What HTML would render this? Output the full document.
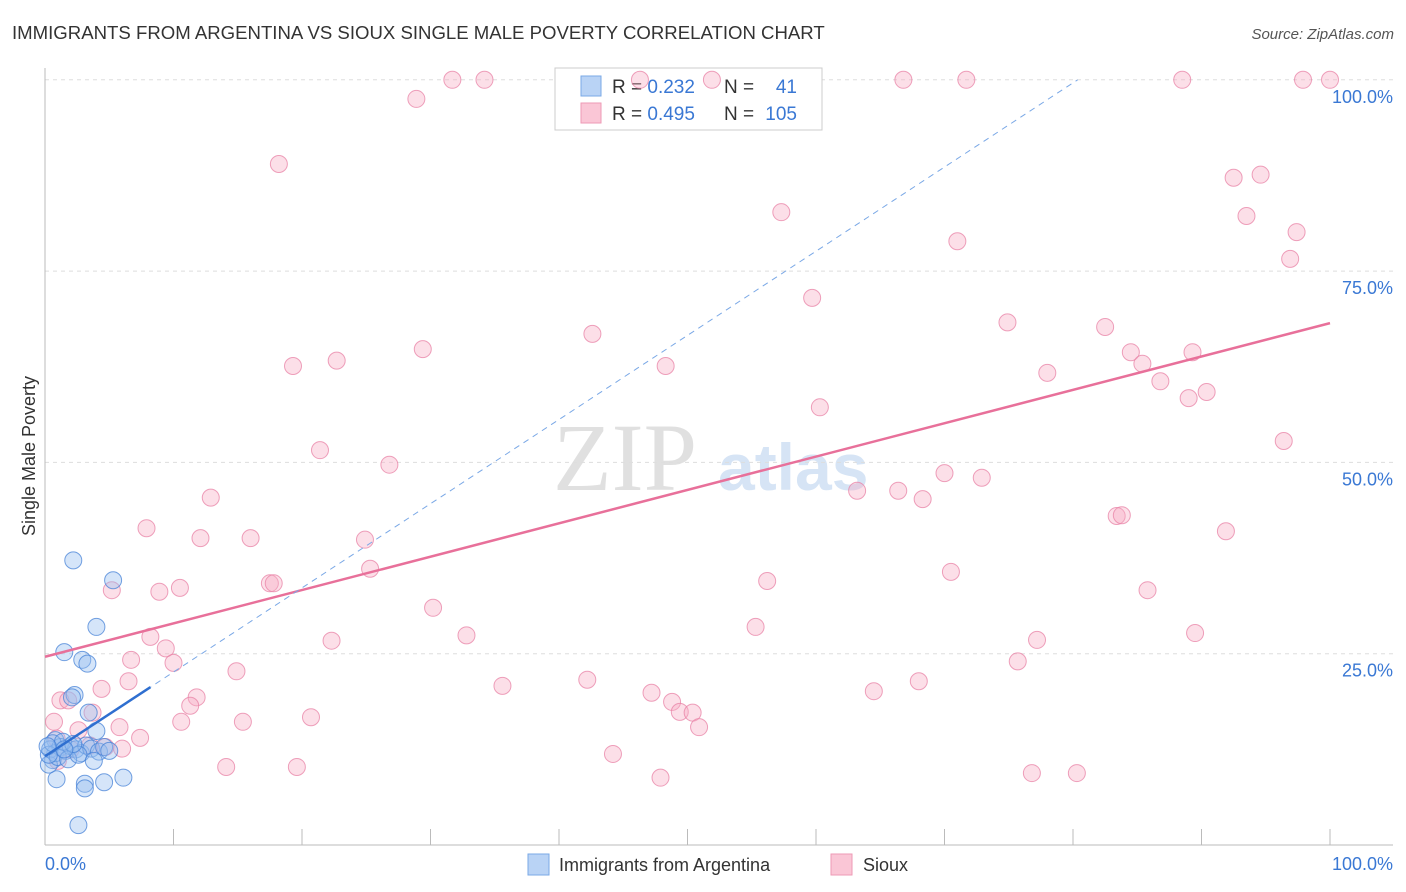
<!DOCTYPE html>
<html><head><meta charset="utf-8"><style>
body{margin:0;background:#fff;font-family:"Liberation Sans",sans-serif;}
svg{display:block}
</style></head><body>
<svg id="chart" width="1406" height="892" xmlns="http://www.w3.org/2000/svg">
<text x="12" y="39" font-size="18.6" fill="#333">IMMIGRANTS FROM ARGENTINA VS SIOUX SINGLE MALE POVERTY CORRELATION CHART</text>
<text x="1394" y="39" font-size="15" fill="#555" font-style="italic" text-anchor="end">Source: ZipAtlas.com</text>
<g><text x="553" y="490" font-size="96" fill="#e0e0e0" font-family="Liberation Serif,serif">ZIP</text><text x="718" y="490" font-size="66" fill="#d6e4f5" font-weight="bold">atlas</text></g>
<g id="grid"></g>
<g id="axes"></g>
<g>
<rect x="555" y="68" width="267" height="62" fill="#fff" stroke="#ccc"/>
<rect x="581" y="76" width="20" height="20" fill="#b9d3f5" stroke="#7aa8e6"/>
<rect x="581" y="103" width="20" height="20" fill="#fac6d6" stroke="#ee9ab5"/>
<text x="612" y="93" font-size="19" fill="#333">R = <tspan fill="#3a78d4">0.232</tspan></text>
<text x="724" y="93" font-size="19" fill="#333">N = </text><text x="797" y="93" font-size="19" fill="#3a78d4" text-anchor="end">41</text>
<text x="612" y="120" font-size="19" fill="#333">R = <tspan fill="#3a78d4">0.495</tspan></text>
<text x="724" y="120" font-size="19" fill="#333">N = </text><text x="797" y="120" font-size="19" fill="#3a78d4" text-anchor="end">105</text>
</g>
<g id="pts"></g>
<g id="lines"></g>
<text x="35" y="456" font-size="18" fill="#333" text-anchor="middle" transform="rotate(-90 35 456)">Single Male Poverty</text>
<text x="45" y="870" font-size="18" fill="#3a78d4">0.0%</text>
<text x="1393" y="870" font-size="18" fill="#3a78d4" text-anchor="end">100.0%</text>
<g>
<rect x="528" y="854" width="21" height="21" fill="#b9d3f5" stroke="#7aa8e6"/>
<text x="559" y="871" font-size="18" fill="#333">Immigrants from Argentina</text>
<rect x="831" y="854" width="21" height="21" fill="#fac6d6" stroke="#ee9ab5"/>
<text x="863" y="871" font-size="18" fill="#333">Sioux</text>
</g>
</svg>
<script>
const yTicks=[25,50,75,100];
const yTickLabels=["25.0%","50.0%","75.0%","100.0%"];
const xTicks=[0,10,20,30,40,50,60,70,80,90,100];
const blueX=[2.2,5.3,4.0,1.5,2.9,3.3,2.3,2.1,4.0,3.4,6.1,4.6,3.1,3.1,2.6,0.9,0.6,0.3,0.8,0.4,0.8,1.2,1.6,2.0,2.4,2.8,3.2,3.6,4.2,4.6,1.0,1.8,2.6,3.8,0.3,0.6,1.4,2.2,0.2,1.5,5.0];
const blueY=[37.2,34.6,28.5,25.2,24.2,23.7,19.6,19.3,14.9,17.3,8.8,8.2,8.0,7.4,2.6,8.6,11.1,10.5,13.7,12.5,12.0,12.8,12.3,12.9,12.5,12.0,13.0,12.6,12.2,12.8,11.5,11.2,11.8,11.0,11.8,13.3,13.5,13.2,12.9,12.5,12.3];
const pinkX=[31.7,34.2,51.9,66.8,71.7,88.5,97.9,100,46.3,28.9,18.2,92.5,94.6,57.3,93.5,71.0,97.4,96.9,59.7,74.9,42.6,82.5,19.3,22.7,29.4,48.3,84.5,89.3,85.4,78.0,86.8,89.0,90.4,60.3,21.4,26.8,96.4,70.0,72.9,12.9,63.2,66.4,68.3,83.4,83.8,7.9,91.9,12.1,16.0,24.9,25.3,70.5,5.2,17.5,17.8,8.9,10.5,56.2,85.8,30.2,8.2,9.4,32.8,55.3,89.5,22.3,77.2,6.7,10.0,14.9,75.7,42.2,68.0,6.5,4.4,35.6,47.2,64.5,11.8,11.3,48.8,49.4,50.4,3.7,1.2,1.8,20.7,0.7,5.8,10.6,15.4,50.9,7.4,4.7,44.2,14.1,19.6,47.9,76.8,80.3,0.9,2.6,2.0,3.5,1.0,6.0];
const pinkY=[100,100,100,100,100,100,100,100,100,97.5,89.0,87.2,87.6,82.7,82.2,78.9,80.1,76.6,71.5,68.3,66.8,67.7,62.6,63.3,64.8,62.6,64.4,64.4,62.9,61.7,60.6,58.4,59.2,57.2,51.6,49.7,52.8,48.6,48.0,45.4,46.3,46.3,45.2,43.0,43.1,41.4,41.0,40.1,40.1,39.9,36.1,35.7,33.3,34.2,34.2,33.1,33.6,34.5,33.3,31.0,27.2,25.7,27.4,28.5,27.7,26.7,26.8,24.2,23.8,22.7,24.0,21.6,21.4,21.4,20.4,20.8,19.9,20.1,19.3,18.2,18.7,17.4,17.3,17.3,18.9,18.9,16.7,16.1,15.4,16.1,16.1,15.4,14.0,12.8,11.9,10.2,10.2,8.8,9.4,9.4,13.9,15.0,12.5,13.0,11.0,12.6];
const pinkTrend=[24.6,68.2];
const blueTrend=[11.6,1.1];
const NS="http://www.w3.org/2000/svg";
const xs=v=>45+v*12.85, ys=v=>845-v*7.652;
function mk(tag,attrs,parent){const e=document.createElementNS(NS,tag);for(const k in attrs)e.setAttribute(k,attrs[k]);document.getElementById(parent).appendChild(e);return e;}
yTicks.forEach((t,i)=>{
  const g=mk('line',{x1:45,x2:1393,y1:ys(t),y2:ys(t),stroke:'#ddd','stroke-dasharray':'4,4'},'grid');
  
  
  const l=mk('text',{x:1393,y:ys(t)+23,'font-size':18,fill:'#3a78d4','text-anchor':'end'},'grid');
  l.textContent=yTickLabels[i];
  
  
});
const ya=mk('line',{x1:45,x2:45,y1:68,y2:845,stroke:'#bbb'},'axes');


const xa=mk('line',{x1:45,x2:1393,y1:845,y2:845,stroke:'#bbb'},'axes');


xTicks.forEach(t=>{const e=mk('line',{x1:xs(t),x2:xs(t),y1:829,y2:845,stroke:'#bbb'},'axes');
  
  });
pinkX.forEach((v,i)=>{const c=mk('circle',{cx:xs(v),cy:ys(pinkY[i]),r:8.5,fill:'rgba(246,170,195,0.38)',stroke:'rgba(232,130,165,0.75)','stroke-width':1},'pts');
  
  });
blueX.forEach((v,i)=>{const c=mk('circle',{cx:xs(v),cy:ys(blueY[i]),r:8.5,fill:'rgba(150,190,240,0.4)',stroke:'rgba(70,130,215,0.75)','stroke-width':1},'pts');
  
  });
const pl=mk('line',{x1:xs(0),y1:ys(pinkTrend[0]),x2:xs(100),y2:ys(pinkTrend[1]),stroke:'#e8709a','stroke-width':2.5},'lines');


const bxEnd=(100-blueTrend[0])/blueTrend[1];
const bd=mk('line',{x1:xs(0),y1:ys(blueTrend[0]),x2:xs(bxEnd),y2:ys(100),stroke:'#7aa8e6','stroke-width':1,'stroke-dasharray':'6,5'},'lines');


const bs=mk('line',{x1:xs(0),y1:ys(blueTrend[0]),x2:xs(8.2),y2:ys(blueTrend[0]+blueTrend[1]*8.2),stroke:'#2f6fd0','stroke-width':2.5},'lines');


</script>
</body></html>
